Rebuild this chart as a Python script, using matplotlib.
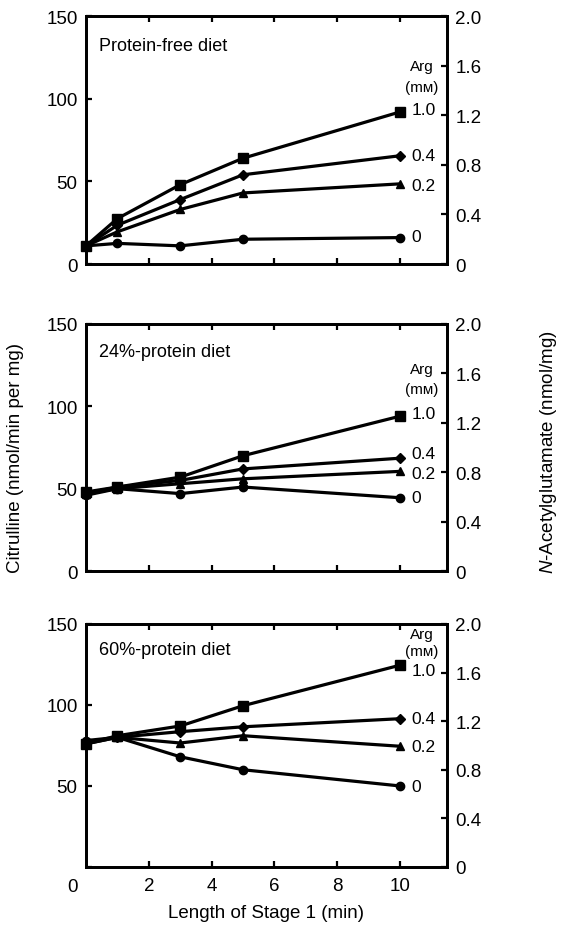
import matplotlib
matplotlib.use('Agg')
import matplotlib.pyplot as plt
plt.rcParams['font.family'] = ['Liberation Sans', 'DejaVu Sans']
plt.rcParams['mathtext.fontset'] = 'custom'
plt.rcParams['mathtext.it'] = 'Liberation Sans:italic'
plt.rcParams['mathtext.rm'] = 'Liberation Sans'

# Length of stage 1 (min)
x = [0, 1, 3, 5, 10]
arg_levels = ['1.0', '0.4', '0.2', '0']
markers = {'1.0': 's', '0.4': 'D', '0.2': '^', '0': 'o'}
msize = {'1.0': 7, '0.4': 5, '0.2': 6, '0': 6}

titles = ['Protein-free diet', '24%-protein diet', '60%-protein diet']

# citrulline (nmol/min per mg), one list per Arg level
free = {
    '1.0': [11, 27.5, 48, 64, 92],
    '0.4': [11, 23.5, 39, 54, 65.5],
    '0.2': [11, 19.5, 33, 43, 48.5],
    '0':   [11, 12.5, 11, 15, 16],
}
p24 = {
    '1.0': [48, 51, 57, 70, 94],
    '0.4': [47, 51, 55, 62, 68.5],
    '0.2': [47, 50, 53, 56, 60.5],
    '0':   [46, 50, 47, 51, 44.5],
}
p60 = {
    '1.0': [76, 81, 87, 99.5, 124.5],
    '0.4': [76, 80, 83.5, 86.5, 91.5],
    '0.2': [76, 80, 76.5, 81, 74.5],
    '0':   [78, 80, 68, 60, 50],
}
panels = [free, p24, p60]

# where the Arg value labels sit (left axis units)
label_y = [
    {'1.0': 93.5, '0.4': 65.5, '0.2': 47.5, '0': 16.5},
    {'1.0': 95.5, '0.4': 71.5, '0.2': 59.5, '0': 44.5},
    {'1.0': 121.5, '0.4': 91.5, '0.2': 74.5, '0': 49.5},
]
arg_y = [(120, 107), (122.5, 110.5), (144, 133.5)]
title_y = [0.88, 0.89, 0.895]

left_ticks = [0, 50, 100, 150]
right_ticks = [0, 0.4, 0.8, 1.2, 1.6, 2.0]
right_labels = ['0', '0.4', '0.8', '1.2', '1.6', '2.0']
x_ticks = [2, 4, 6, 8, 10]

fig = plt.figure(figsize=(5.61, 9.28), dpi=100)
boxes = [(0.1533, 0.7144, 0.6435, 0.2672),
         (0.1533, 0.3836, 0.6435, 0.2662),
         (0.1533, 0.0647, 0.6435, 0.2619)]

fs = 13.5
for i, data in enumerate(panels):
    ax = fig.add_axes(boxes[i])
    for lev in arg_levels:
        ax.plot(x, data[lev], color='black', linewidth=2.3,
                marker=markers[lev], markersize=msize[lev], clip_on=False,
                zorder=3)
        ax.text(10.37, label_y[i][lev], lev, fontsize=12.5, va='center',
                ha='left')
    ax.text(10.7, arg_y[i][0], 'Arg', fontsize=11, ha='center', va='center')
    ax.text(10.7, arg_y[i][1], '(mᴍ)', fontsize=11, ha='center', va='center')
    ax.text(0.036, title_y[i], titles[i], transform=ax.transAxes,
            fontsize=13, ha='left', va='center')

    ax.set_xlim(0, 11.5)
    ax.set_ylim(0, 150)
    ax.set_xticks(x_ticks)
    if i < 2:
        ax.set_xticklabels([])
        ax.set_yticks(left_ticks)
    else:
        ax.set_yticks(left_ticks)
        ax.set_yticklabels(['', '50', '100', '150'])
        ax.annotate('0', xy=(0, 0), xycoords='data', xytext=(-6, -8),
                    textcoords='offset points', ha='right', va='top',
                    fontsize=fs)
    for s in ax.spines.values():
        s.set_linewidth(2.0)
    ax.tick_params(axis='both', direction='in', length=4, width=1.6,
                   labelsize=fs, pad=6, top=True)
    ax.tick_params(axis='x', pad=7)

    ax2 = ax.twinx()
    ax2.set_ylim(0, 2.0)
    ax2.set_yticks(right_ticks)
    ax2.set_yticklabels(right_labels)
    ax2.tick_params(axis='y', direction='in', length=4, width=1.6,
                    labelsize=fs, pad=6)
    for s in ax2.spines.values():
        s.set_linewidth(2.0)

fig.text(0.028, 1 - 458 / 928, 'Citrulline (nmol/min per mg)', rotation=90,
         ha='center', va='center', fontsize=13.5)
fig.text(0.978, 1 - 452 / 928, r'$\it{N}$-Acetylglutamate (nmol/mg)',
         rotation=90, ha='center', va='center', fontsize=13.5)
fig.text(0.4745, 1 - 914 / 928, 'Length of Stage 1 (min)', ha='center',
         va='center', fontsize=13.5)

plt.savefig('out.png', dpi=100)
